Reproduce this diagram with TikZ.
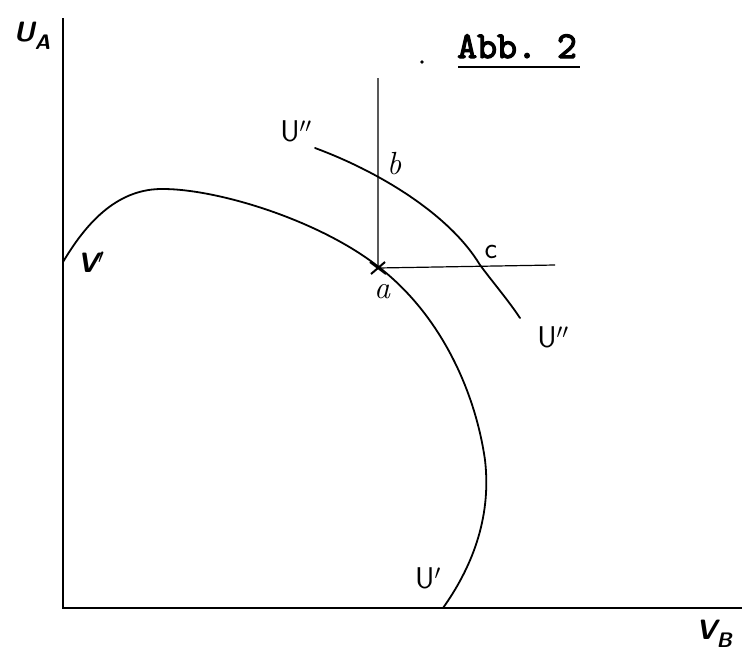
\documentclass[tikz,border=0pt]{standalone}
\usepackage{fontspec}
\newfontfamily\abbfont{lmmono10-regular.otf}[FakeBold=3]
\begin{document}
\begin{tikzpicture}[x=1pt,y=-1pt,
  ax/.style={line width=1.4pt},
  crv/.style={line width=1.8pt, line cap=round},
  thin/.style={line width=1.2pt},
  hand/.style={font=\fontsize{30}{32}\selectfont\sffamily, inner sep=0pt},
  handi/.style={font=\fontsize{32}{34}\selectfont\itshape, inner sep=0pt},
  axl/.style={font=\fontsize{28}{30}\selectfont\sffamily\bfseries\itshape, inner sep=0pt}]
\useasboundingbox (0,0) rectangle (746,651);
% axes
\coordinate (o) at (63,608);
\coordinate (ytop) at (63,18);
\coordinate (xend) at (742,608);
\draw[ax] (ytop) -- (o) -- (xend);
% U' curve
\draw[crv] (63,262) .. controls (85,225) and (115,190) .. (160,189)
  .. controls (215,188) and (320,220) .. (380,268)
  .. controls (440,315) and (475,390) .. (485,460)
  .. controls (492,520) and (470,570) .. (443,608);
% U'' curve
\draw[crv] (315,148) .. controls (380,172) and (450,215) .. (480,265)
  .. controls (495,285) and (508,300) .. (520,318);
% lines from a
\coordinate (a) at (378,268);
\coordinate (vtop) at (378,78);
\coordinate (hend) at (555,265);
\draw[thin] (vtop) -- (a) -- (hend);
\draw[line width=2pt] (370,262) -- (386,274) (371,274) -- (385,262);
% labels
\node[axl] (ua) at (32,36) {U\raisebox{-8pt}{\fontsize{21}{22}\selectfont A}};
\node[axl] (vb) at (714,634) {V\raisebox{-8pt}{\fontsize{21}{22}\selectfont B}};
\node[font=\fontsize{38}{40}\selectfont\abbfont, inner sep=0pt, anchor=base west] (abb) at (457,58) {Abb.~2};
\draw[line width=2.6pt] (458,67) -- (580,67);
\fill (422,62) circle (1.8pt);
\node[hand] (u2a) at (296,131) {U$''$};
\node[hand] (u2b) at (553,337) {U$''$};
\node[handi] (lb) at (394,164) {b};
\node[hand] (lc) at (491,252) {c};
\node[handi] (la) at (382,292) {a};
\node[axl] (v1) at (91,262) {V$'$};
\node[hand] (u1) at (428,578) {U$'$};
\end{tikzpicture}
\end{document}
